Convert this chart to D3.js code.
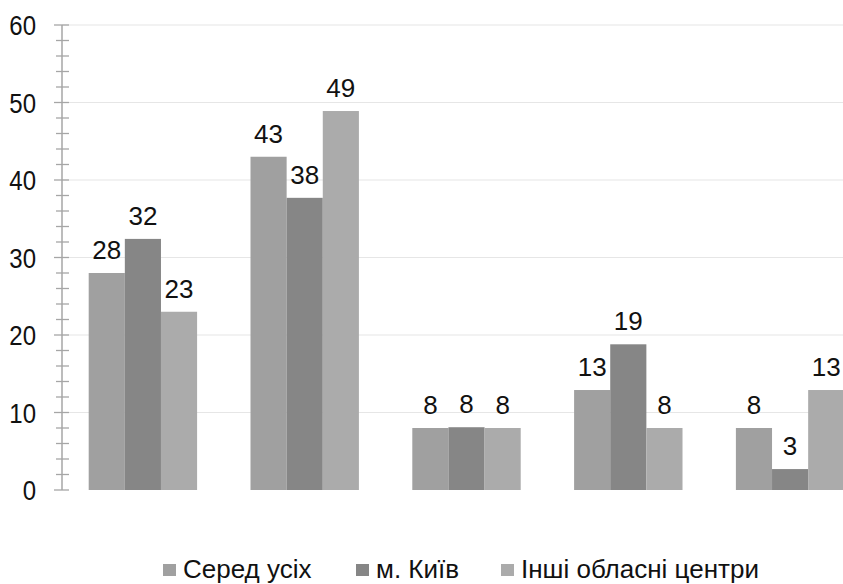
<!DOCTYPE html>
<html>
<head>
<meta charset="utf-8">
<script src="https://cdn.jsdelivr.net/npm/d3@7"></script>
<style>
  body { margin: 0; background: #fff; }
  text { font-family: "Liberation Sans", Arial, sans-serif; fill: #111; }
</style>
</head>
<body>
<svg id="chart"></svg>
<script>
var width = 843,
    height = 584;

var categories = ["a", "b", "c", "d", "e"],
    series = ["Серед усіх", "м. Київ", "Інші обласні центри"],
    colors = ["#a0a0a0", "#868686", "#ababab"];

var valAll   = [28, 43, 8, 12.9, 8],
    valKyiv  = [32.4, 37.7, 8.1, 18.8, 2.7],
    valOther = [23, 48.9, 8, 8, 12.9];

var yTicks = [0, 10, 20, 30, 40, 50, 60];

var svg = d3.select("#chart").attr("width", width).attr("height", height);

var x = d3.scaleBand().domain(categories).range([62, 871]).paddingInner(0.33).paddingOuter(0.165),
    xs = d3.scaleBand().domain(d3.range(series.length)).range([0, x.bandwidth()]),
    y = d3.scaleLinear().domain([0, 60]).range([490, 25]);

var data = [valAll, valKyiv, valOther];

// gridlines
svg.append("g").selectAll("line").data(yTicks.slice(1)).join("line")
    .attr("x1", 62).attr("x2", width)
    .attr("y1", d => y(d)).attr("y2", d => y(d))
    .attr("stroke", "#e6e6e6").attr("stroke-width", 1.2);

// bars + labels
categories.forEach(function(c, i) {
    var g = svg.append("g").attr("transform", "translate(" + x(c) + ",0)"),
        rows = data.map((s, k) => ({k: k, v: s[i]}));
    g.selectAll("rect").data(rows).join("rect")
        .attr("x", d => xs(d.k))
        .attr("width", xs.bandwidth())
        .attr("y", d => y(d.v))
        .attr("height", d => y(0) - y(d.v))
        .attr("fill", d => colors[d.k]);
    g.selectAll("text").data(rows).join("text")
        .attr("x", d => xs(d.k) + xs.bandwidth() / 2)
        .attr("y", d => y(d.v) - 14)
        .attr("text-anchor", "middle")
        .attr("font-size", 26)
        .text(d => d3.format(".0f")(d.v));
});

// y axis
var axis = svg.append("g");
axis.append("line")
    .attr("x1", 62).attr("x2", 62).attr("y1", y(60)).attr("y2", y(0))
    .attr("stroke", "#a6a6a6").attr("stroke-width", 1.5);
axis.selectAll("line.minor").data(d3.range(0, 61, 2)).join("line")
    .attr("class", "minor")
    .attr("x1", d => d % 10 === 0 ? 54 : 56).attr("x2", 69)
    .attr("y1", d => y(d)).attr("y2", d => y(d))
    .attr("stroke", "#a6a6a6").attr("stroke-width", 1.3);
axis.selectAll("text").data(yTicks).join("text")
    .attr("transform", d => "translate(36," + y(d) + ") scale(1,1.18)")
    .attr("y", 8.6)
    .attr("text-anchor", "end")
    .attr("font-size", 24)
    .text(d => d);

// legend
var legX = [163, 356, 501];
var leg = svg.append("g").selectAll("g").data(series).join("g")
    .attr("transform", (d, i) => "translate(" + legX[i] + ",564)");
leg.append("rect").attr("width", 13).attr("height", 12).attr("fill", (d, i) => colors[i]);
leg.append("text").attr("x", 20).attr("y", 14).attr("font-size", 26).text(d => d);
</script>
</body>
</html>
